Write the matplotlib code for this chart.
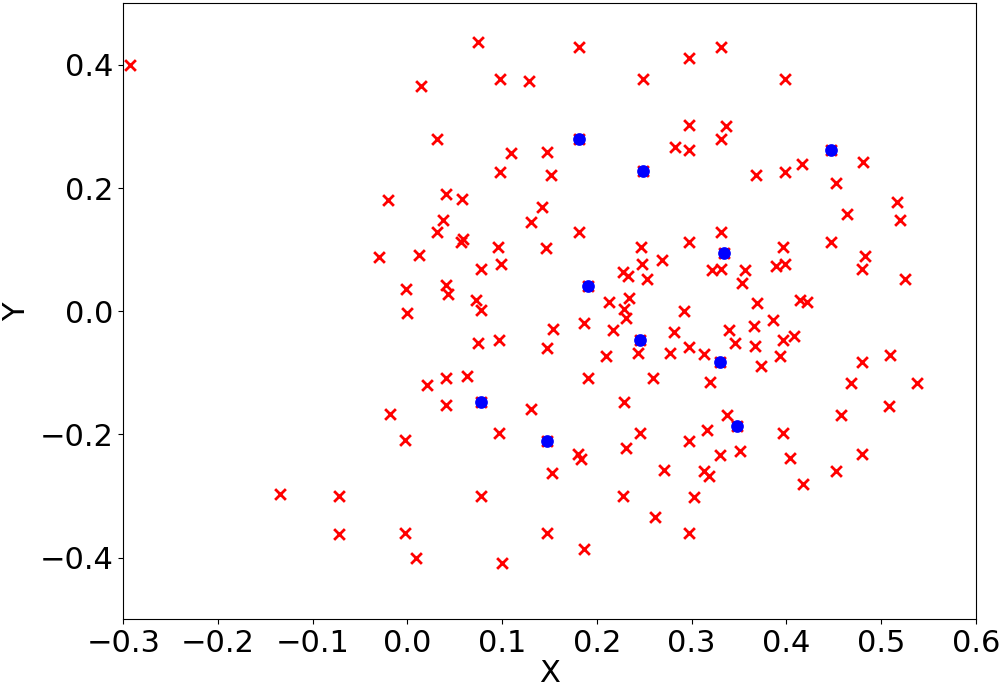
import numpy as np
import matplotlib
matplotlib.use("Agg")
import matplotlib.pyplot as plt

# red samples (x, y)
red_x = [-0.293, -0.020, 0.075, 0.181, 0.297, 0.014, 0.098, 0.128, 0.249, 0.297,
         0.031, 0.181, 0.282, 0.297, 0.109, 0.147, 0.098, 0.152, 0.249, 0.041,
         0.058, 0.142, 0.038, 0.130, 0.031, 0.059, 0.057, 0.096, 0.012, 0.181,
         0.146, 0.297, 0.247, 0.078, 0.099, 0.248, 0.269, 0.228, 0.233, 0.253,
         -0.001, 0.041, 0.043, 0.072, 0.078, 0.000, 0.191, 0.213, 0.234, 0.229,
         0.231, 0.292, 0.154, 0.186, 0.217, 0.281, 0.074, 0.097, 0.147, 0.246,
         0.210, 0.243, 0.277, 0.297, 0.021, 0.041, 0.063, 0.191, 0.259, 0.041,
         0.078, 0.130, 0.229, -0.030, -0.018, 0.331, 0.399, 0.336, 0.331, 0.368,
         0.399, 0.417, 0.447, 0.481, 0.452, 0.517, 0.464, 0.520, 0.331, 0.334,
         0.397, 0.447, 0.483, 0.480, 0.525, 0.322, 0.331, 0.356, 0.389, 0.399,
         0.353, 0.369, 0.414, 0.422, 0.386, 0.366, 0.340, 0.346, 0.367, 0.397,
         0.408, 0.393, 0.373, 0.313, 0.330, 0.319, 0.480, 0.510, 0.468, 0.538,
         0.508, 0.458, 0.337, 0.348, 0.316, 0.397, 0.330, 0.351, 0.404, 0.480,
         0.452, 0.418, 0.313, 0.318, 0.303, 0.297, -0.003, 0.097, 0.147, 0.180,
         0.183, 0.153, 0.231, 0.246, 0.297, 0.271, 0.078, 0.228, 0.261, -0.003,
         0.147, 0.009, 0.100, 0.186, -0.135, -0.072, -0.072]
red_y = [0.400, 0.181, 0.437, 0.429, 0.412, 0.365, 0.377, 0.374, 0.377, 0.302,
         0.280, 0.280, 0.267, 0.262, 0.257, 0.259, 0.226, 0.221, 0.227, 0.191,
         0.183, 0.170, 0.148, 0.145, 0.128, 0.117, 0.112, 0.105, 0.092, 0.129,
         0.102, 0.112, 0.105, 0.069, 0.076, 0.076, 0.083, 0.064, 0.057, 0.052,
         0.037, 0.042, 0.028, 0.019, 0.002, -0.003, 0.041, 0.015, 0.022, 0.004,
         -0.011, 0.001, -0.029, -0.019, -0.031, -0.034, -0.051, -0.046, -0.059, -0.046,
         -0.073, -0.068, -0.067, -0.058, -0.119, -0.109, -0.105, -0.109, -0.109, -0.152,
         -0.148, -0.158, -0.148, 0.088, -0.167, 0.429, 0.377, 0.301, 0.280, 0.221,
         0.226, 0.239, 0.262, 0.243, 0.209, 0.177, 0.158, 0.149, 0.129, 0.094,
         0.104, 0.112, 0.089, 0.068, 0.052, 0.067, 0.068, 0.067, 0.074, 0.076,
         0.046, 0.013, 0.019, 0.015, -0.014, -0.024, -0.031, -0.052, -0.057, -0.046,
         -0.040, -0.072, -0.089, -0.069, -0.083, -0.115, -0.083, -0.071, -0.117, -0.117,
         -0.154, -0.169, -0.169, -0.186, -0.193, -0.197, -0.233, -0.227, -0.238, -0.232,
         -0.259, -0.280, -0.259, -0.267, -0.301, -0.360, -0.209, -0.197, -0.210, -0.231,
         -0.240, -0.262, -0.222, -0.197, -0.210, -0.257, -0.300, -0.300, -0.334, -0.360,
         -0.360, -0.400, -0.409, -0.386, -0.297, -0.300, -0.362]

# blue centres
blue_x = [0.181, 0.249, 0.447, 0.334, 0.191, 0.246, 0.330, 0.078, 0.147, 0.348]
blue_y = [0.280, 0.227, 0.262, 0.094, 0.041, -0.046, -0.083, -0.148, -0.210, -0.186]

fig = plt.figure(figsize=(10.02, 6.91), dpi=100)
ax = fig.add_axes([123.3/1002, 1-619.3/691, (975.7-123.3)/1002, (619.3-3.3)/691])

ax.scatter(red_x, red_y, marker="x", s=60, c="red", linewidths=2)
ax.scatter(blue_x, blue_y, marker="o", s=66, c="blue")

ax.set_xlim(-0.3, 0.6)
ax.set_ylim(-0.5, 0.5)
ax.set_xticks(np.arange(-0.3, 0.61, 0.1))
ax.set_yticks([-0.4, -0.2, 0.0, 0.2, 0.4])
ax.tick_params(labelsize=22)
ax.set_xlabel("X", fontsize=22, labelpad=1)
ax.set_ylabel("Y", fontsize=22, labelpad=6)

fig.savefig("out.png", dpi=100)
